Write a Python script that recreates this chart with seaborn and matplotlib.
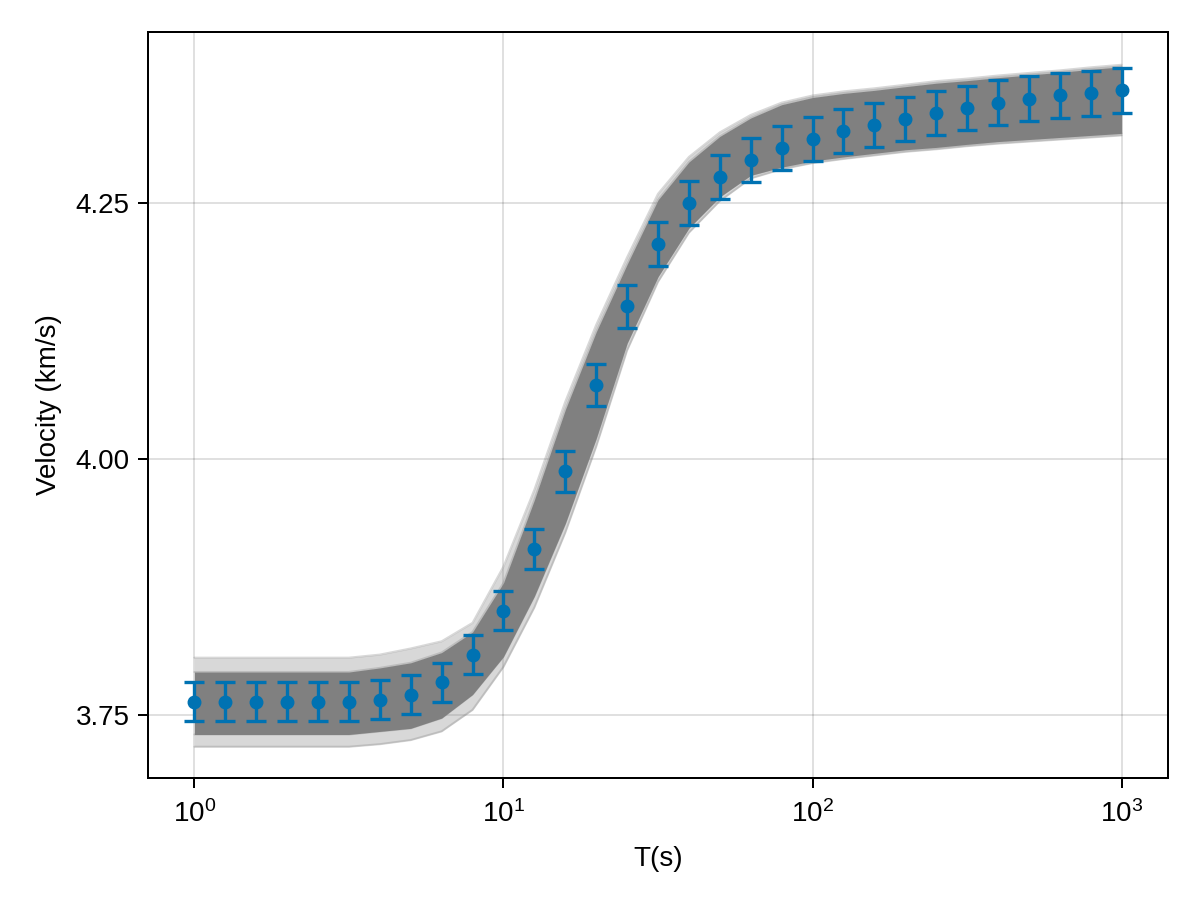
import numpy as np
import pandas as pd
import matplotlib
matplotlib.use("Agg")
import matplotlib.pyplot as plt
from matplotlib.ticker import NullLocator, FixedLocator
import seaborn as sns

# periods (s), 10 per decade
periods = np.logspace(0, 3, 31)

# observed dispersion curve with error bars
velocity = [3.763, 3.763, 3.763, 3.763, 3.763, 3.763, 3.765, 3.770, 3.782, 3.809,
            3.852, 3.912, 3.988, 4.072, 4.149, 4.210, 4.250, 4.275, 4.292, 4.304,
            4.3125, 4.320, 4.326, 4.332, 4.338, 4.343, 4.348, 4.352, 4.355, 4.357,
            4.360]
errors = [0.0188, 0.0188, 0.0188, 0.0188, 0.0188, 0.0188, 0.0188, 0.0189, 0.0189, 0.0190,
          0.0193, 0.0196, 0.0199, 0.0204, 0.0207, 0.0211, 0.0213, 0.0214, 0.0215, 0.0215,
          0.0216, 0.0216, 0.0216, 0.0217, 0.0217, 0.0217, 0.0217, 0.0218, 0.0218, 0.0218,
          0.0218]

# ensemble of model curves: outer (sparse) and core (dense) envelopes
upper_outer = [3.806, 3.806, 3.806, 3.806, 3.806, 3.806, 3.809, 3.815, 3.822, 3.840,
               3.895, 3.970, 4.056, 4.131, 4.197, 4.259, 4.295, 4.319, 4.336, 4.348,
               4.355, 4.359, 4.362, 4.3655, 4.369, 4.3715, 4.3745, 4.377, 4.3795, 4.3825,
               4.385]
upper_core = [3.792, 3.792, 3.792, 3.792, 3.792, 3.792, 3.796, 3.801, 3.811, 3.831,
              3.879, 3.960, 4.048, 4.124, 4.190, 4.253, 4.290, 4.315, 4.333, 4.346,
              4.353, 4.357, 4.360, 4.3636, 4.367, 4.3695, 4.3724, 4.375, 4.3776, 4.3805,
              4.383]
lower_core = [3.731, 3.731, 3.731, 3.731, 3.731, 3.731, 3.734, 3.737, 3.747, 3.770,
              3.807, 3.866, 3.937, 4.020, 4.113, 4.178, 4.2255, 4.256, 4.277, 4.285,
              4.291, 4.295, 4.2985, 4.302, 4.3043, 4.3073, 4.310, 4.312, 4.314, 4.316,
              4.318]
lower_outer = [3.719, 3.719, 3.719, 3.719, 3.719, 3.719, 3.7215, 3.7255, 3.734, 3.755,
               3.797, 3.855, 3.928, 4.012, 4.106, 4.173, 4.221, 4.252, 4.274, 4.283,
               4.289, 4.293, 4.2965, 4.300, 4.3025, 4.3055, 4.308, 4.310, 4.312, 4.314,
               4.316]

blue = "#0072B2"
fs = 20

sns.set_theme(style="ticks")
plt.rcParams['font.family'] = ['Liberation Sans', 'DejaVu Sans']
plt.rcParams['mathtext.fontset'] = 'custom'
plt.rcParams['mathtext.rm'] = 'Liberation Sans'
plt.rcParams['mathtext.it'] = 'Liberation Sans:italic'

fig = plt.figure(figsize=(12, 9), dpi=100)
ax = fig.add_axes([148 / 1200, 1 - 778 / 900, 1020 / 1200, 746 / 900])

ax.fill_between(periods, lower_outer, upper_outer, color="gray", alpha=0.3, lw=0, zorder=2)
ax.fill_between(periods, lower_core, upper_core, color="#808080", lw=0, zorder=3)

edges = pd.DataFrame({"T": periods, "upper_outer": upper_outer, "upper_core": upper_core,
                      "lower_core": lower_core, "lower_outer": lower_outer})
edges = edges.melt(id_vars="T", var_name="curve", value_name="v")
sns.lineplot(data=edges, x="T", y="v", units="curve", estimator=None, color="gray",
             alpha=0.3, lw=1.5, ax=ax, zorder=4, legend=False)

ax.errorbar(periods, velocity, yerr=errors, fmt="o", color=blue, ms=9,
            elinewidth=2.4, capsize=7.2, capthick=2.4, zorder=5)

ax.set_xscale("log")
ax.set_xlim(10 ** -0.15, 10 ** 3.15)
ax.set_ylim(3.6885, 4.417)
ax.xaxis.set_major_locator(FixedLocator([1, 10, 100, 1000]))
ax.xaxis.set_minor_locator(NullLocator())
ax.set_yticks([3.75, 4.0, 4.25])
ax.set_yticklabels(["3.75", "4.00", "4.25"])

ax.grid(True, color="black", alpha=0.12, lw=1.44)
ax.set_axisbelow(True)
for s in ax.spines.values():
    s.set_color("black")
    s.set_linewidth(1.44)
ax.tick_params(direction="out", length=7.2, width=1.44, labelsize=fs, pad=6,
               colors="black")
ax.tick_params(axis="x", pad=9)

ax.set_xlabel("T(s)", fontsize=fs, labelpad=13, color="black")
ax.set_ylabel("Velocity (km/s)", fontsize=fs, labelpad=10, color="black")

fig.savefig("out.png", dpi=100)
